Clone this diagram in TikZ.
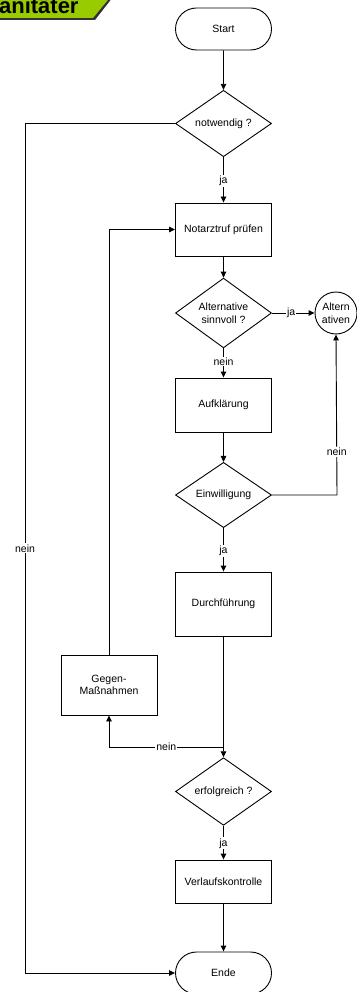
\documentclass[tikz,border=0pt]{standalone}
\usepackage{fontspec}
\setmainfont{Liberation Sans}
\usetikzlibrary{shapes.geometric,shapes.misc,arrows.meta}
\definecolor{headgreen}{RGB}{153,204,0}
\begin{document}
\begin{tikzpicture}[x=1pt,y=-1pt,
  font=\fontsize{10.5}{12.5}\selectfont,
  line width=0.9pt,
  >={Triangle[length=6pt,width=5.5pt]},
  terminal/.style={draw,rounded rectangle,minimum width=96pt,minimum height=42pt,inner sep=0pt},
  stepbox/.style={draw,rectangle,minimum width=96pt,inner sep=0pt,align=center},
  decision/.style={draw,diamond,minimum width=96pt,minimum height=56pt,inner sep=0pt,align=center},
  connector/.style={draw,circle,minimum size=42pt,inner sep=0pt,align=center,fill=white},
  lbl/.style={fill=white,inner sep=1pt},
  flow/.style={->}]
\useasboundingbox (0,0) rectangle (356,992);

% header tab in the upper left corner
\begin{scope}
\clip (0,0) rectangle (356,992);
\fill[black!80] (-5,-5) -- (114.5,-5) -- (95,20) -- (-5,20) -- cycle;
\fill[headgreen] (-5,-5) -- (112,-5) -- (93,18) -- (-5,18) -- cycle;
\node[anchor=base east,inner sep=0pt,font=\fontsize{22}{24}\bfseries\selectfont] (head) at (79,13.5) {Sanitäter};
\end{scope}

% main column
\node[terminal] (start) at (223.5,29) {Start};
\node[decision] (need) at (223.5,123.5) {notwendig ?};
\node[stepbox,minimum height=53pt] (check) at (223.5,229.5) {Notarztruf prüfen};
\node[decision,minimum height=60pt] (alt) at (223.5,313) {Alternative\\sinnvoll ?};
\node[stepbox,minimum height=54pt] (info) at (223.5,405) {Aufklärung};
\node[decision] (consent) at (223.5,495) {Einwilligung};
\node[stepbox,minimum height=64pt] (exec) at (223.5,604) {Durchführung};
\node[decision,minimum height=54pt] (ok) at (223.5,791.5) {erfolgreich ?};
\node[stepbox,minimum height=43pt] (follow) at (223.5,881.5) {Verlaufskontrolle};
\node[terminal] (end) at (223.5,973) {Ende};

% side nodes
\node[connector] (altern) at (336,313) {Altern\\ativen};
\node[stepbox,minimum height=60pt] (counter) at (109,685) {Gegen-\\Maßnahmen};

% routing points
\coordinate (needL) at (25,123.5);
\coordinate (endL) at (25,973);
\coordinate (consR) at (337,495);
\coordinate (split) at (223.5,747);
\coordinate (splitL) at (109,747);
\coordinate (backT) at (109,229.5);

% connectors
\draw[flow] (start) -- (need);
\draw[flow] (need) -- node[lbl,pos=0.52] {ja} (check);
\draw[flow] (check) -- (alt);
\draw[flow] (alt) -- node[lbl,pos=0.45] {ja} (altern);
\draw[flow] (alt) -- node[lbl,pos=0.45] {nein} (info);
\draw[flow] (info) -- (consent);
\draw[flow] (consent.east) -- (consR) -- node[lbl,pos=0.27] {nein} (altern.south);
\draw[flow] (consent) -- node[lbl,pos=0.52] {ja} (exec);
\draw[flow] (exec) -- (ok);
\draw[flow] (split) -- node[lbl] {nein} (splitL) -- (counter);
\draw[flow] (counter) -- (backT) -- (check);
\draw[flow] (ok) -- node[lbl,pos=0.52] {ja} (follow);
\draw[flow] (follow) -- (end);
\draw[flow] (need.west) -- (needL) -- node[lbl,pos=0.5] {nein} (endL) -- (end.west);
\end{tikzpicture}
\end{document}
